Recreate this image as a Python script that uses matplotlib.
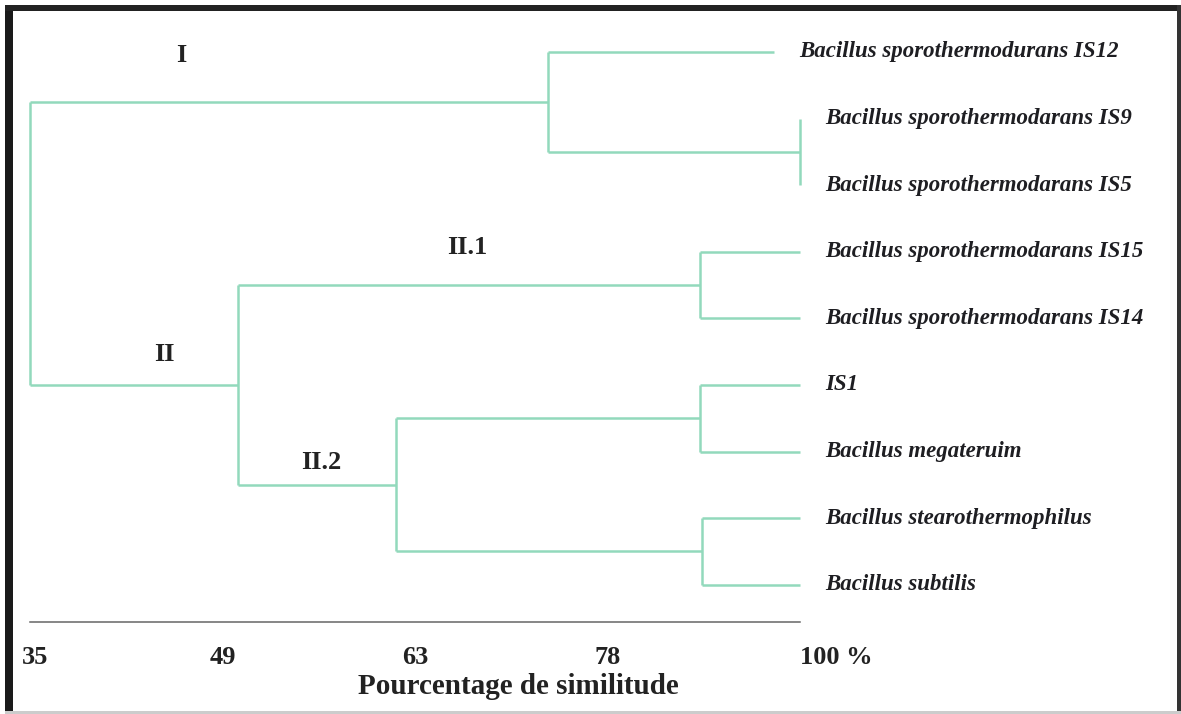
import matplotlib.pyplot as plt
import matplotlib.transforms as mtransforms
import numpy as np
from matplotlib.patches import Rectangle

# leaves, top to bottom
leaves = [
    "Bacillus sporothermodurans IS12",
    "Bacillus sporothermodarans IS9",
    "Bacillus sporothermodarans IS5",
    "Bacillus sporothermodarans IS15",
    "Bacillus sporothermodarans IS14",
    "IS1",
    "Bacillus megateruim",
    "Bacillus stearothermophilus",
    "Bacillus subtilis",
]
# similarity where each leaf branch stops
leaf_ends = [97, 100, 100, 100, 100, 100, 100, 100, 100]

# merges (child a, child b, similarity %), new node ids start at len(leaves)
merges = [
    (1, 2, 100),     # 9
    (0, 9, 73.4),    # 10  -> I
    (3, 4, 88.6),    # 11  -> II.1
    (5, 6, 88.6),    # 12
    (7, 8, 88.8),    # 13
    (12, 13, 61.6),  # 14  -> II.2
    (11, 14, 50.1),  # 15  -> II
    (10, 15, 35),    # 16  root
]

tick_values = [35, 49, 63, 78, 100]
tick_labels = ["35", "49", "63", "78", "100 %"]

cluster_names = ["I", "II", "II.1", "II.2"]
cluster_x = [46.0, 44.8, 67.1, 56.2]
cluster_y = [0.06, 4.55, 2.93, 6.16]

line_color = "#92d9bc"
serif = "Liberation Serif"


def fwd(s):
    return np.interp(s, tick_values, np.arange(len(tick_values)))


def inv(t):
    return np.interp(t, np.arange(len(tick_values)), tick_values)


fig = plt.figure(figsize=(11.81, 7.14), dpi=100)
ax = fig.add_axes([30 / 1181, 1 - 622 / 714, 770 / 1181, 592 / 714])
ax.set_xscale("function", functions=(fwd, inv))

# node positions
xpos = {i: leaf_ends[i] for i in range(len(leaves))}
ypos = {i: float(i) for i in range(len(leaves))}
for k, (a, b, s) in enumerate(merges):
    node = len(leaves) + k
    for c in (a, b):
        ax.plot([s, xpos[c]], [ypos[c], ypos[c]], color=line_color, lw=1.8,
                solid_capstyle="butt", clip_on=False)
    ax.plot([s, s], [ypos[a], ypos[b]], color=line_color, lw=1.8,
            solid_capstyle="butt", clip_on=False)
    xpos[node] = s
    ypos[node] = (ypos[a] + ypos[b]) / 2

# leaf names
for i, name in enumerate(leaves):
    ax.annotate(name, (leaf_ends[i], i), xytext=(25 * 0.72, 0), textcoords="offset points",
                ha="left", va="center", fontsize=16.5, family=serif,
                weight="bold", style="italic", color="#1e1e22", annotation_clip=False)

for name, x, y in zip(cluster_names, cluster_x, cluster_y):
    ax.text(x, y, name, ha="center", va="center", fontsize=19, family=serif,
            weight="bold", color="#222222")

ax.set_xlim(35, 100)
ax.set_ylim(8.56, -0.33)
ax.set_yticks([])
for side in ("top", "left", "right"):
    ax.spines[side].set_visible(False)
ax.spines["bottom"].set_color("#666666")
ax.spines["bottom"].set_linewidth(1.1)

ax.set_xticks(tick_values)
ax.set_xticklabels(tick_labels, fontsize=19, family=serif, weight="bold", color="#222222")
ax.tick_params(axis="x", length=0, pad=17)
labels = ax.get_xticklabels()
labels[-1].set_ha("left")
shift = mtransforms.ScaledTranslation(5 / 100, 0, fig.dpi_scale_trans)
labels[0].set_transform(labels[0].get_transform() + shift)

ax.set_xlabel("Pourcentage de similitude", fontsize=21, family=serif, weight="bold",
              color="#222222")
ax.xaxis.set_label_coords(488 / 770, -51 / 592)

# scanned frame
fig.add_artist(Rectangle((5 / 1181, 0), 8 / 1181, 1 - 5 / 714, transform=fig.transFigure,
                         color="#1a1a1a", lw=0))
fig.add_artist(Rectangle((5 / 1181, 1 - 11 / 714), 1176 / 1181, 6 / 714,
                         transform=fig.transFigure, color="#222222", lw=0))
fig.add_artist(Rectangle((1177 / 1181, 0), 4 / 1181, 1 - 5 / 714, transform=fig.transFigure,
                         color="#333333", lw=0))
fig.add_artist(Rectangle((5 / 1181, 0), 1176 / 1181, 3 / 714, transform=fig.transFigure,
                         color="#cccccc", lw=0))

fig.savefig("out.png", dpi=100, facecolor="white")
